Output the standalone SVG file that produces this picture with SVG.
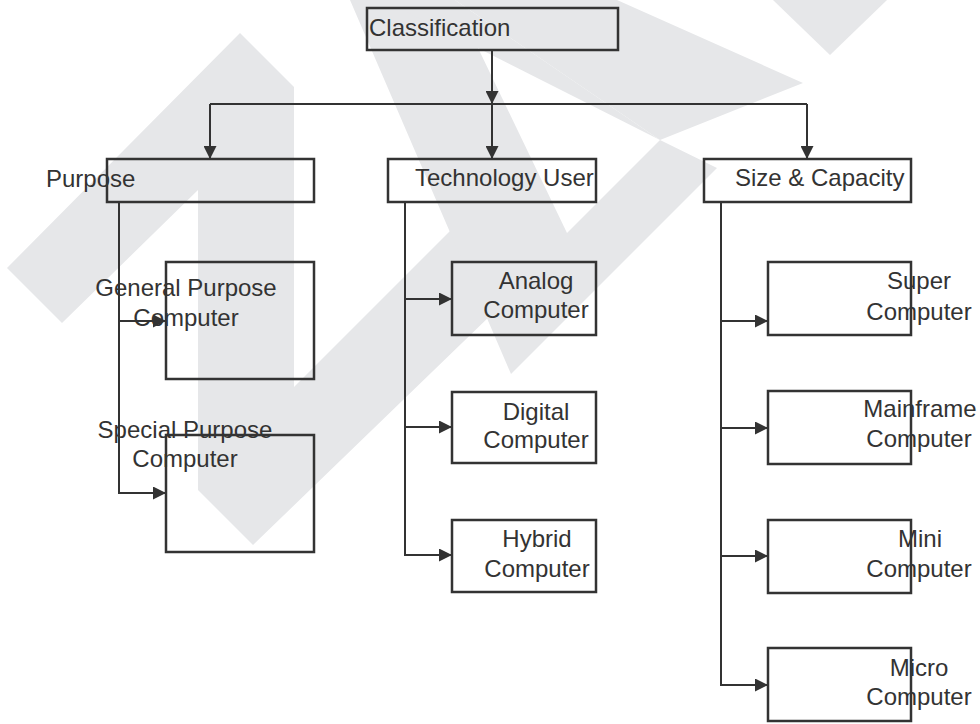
<svg xmlns="http://www.w3.org/2000/svg" width="980" height="724" viewBox="0 0 980 724">
<style>
.wm{fill:#e6e7e9;stroke:none}
.box{fill:none;stroke:#333;stroke-width:2.5}
.ln{fill:none;stroke:#333;stroke-width:2}
.t{font-family:"Liberation Sans",Arial,sans-serif;font-size:24px;fill:#333}
.c{text-anchor:middle}
</style>
<defs>
<marker id="ah" markerWidth="13" markerHeight="13" refX="13" refY="6.5" orient="auto" markerUnits="userSpaceOnUse">
<path d="M0,0 L13,6.5 L0,13 z" fill="#333"/>
</marker>
</defs>
<rect x="0" y="0" width="980" height="724" fill="#fff"/>
<g id="watermark">
<polygon class="wm" points="7,268 240,33 294,87 294,387 460,221 492,314 253,545 198,490 198,190 62,323"/>
<polygon class="wm" points="350,0 617,0 803,83 660,140 717,168 511,374"/>
<polygon class="wm" points="773,0 830,55 887,0"/>
<polygon class="wm" fill="#fff" style="fill:#fff" points="455,0 660,140 567,233"/>
<polygon class="wm" points="383,0 455,0 660,140"/>
</g>
<g id="connectors">
<path class="ln" d="M492,50 V104" marker-end="url(#ah)"/>
<path class="ln" d="M210,104 H807"/>
<path class="ln" d="M210,104 V159" marker-end="url(#ah)"/>
<path class="ln" d="M492,104 V159" marker-end="url(#ah)"/>
<path class="ln" d="M807,104 V159" marker-end="url(#ah)"/>
<path class="ln" d="M119,202 V493 H166" marker-end="url(#ah)"/>
<path class="ln" d="M119,321 H166" marker-end="url(#ah)"/>
<path class="ln" d="M405,202 V555 H452" marker-end="url(#ah)"/>
<path class="ln" d="M405,299 H452" marker-end="url(#ah)"/>
<path class="ln" d="M405,427 H452" marker-end="url(#ah)"/>
<path class="ln" d="M721,202 V685 H768" marker-end="url(#ah)"/>
<path class="ln" d="M721,321 H768" marker-end="url(#ah)"/>
<path class="ln" d="M721,428 H768" marker-end="url(#ah)"/>
<path class="ln" d="M721,556 H768" marker-end="url(#ah)"/>
</g>
<g id="classification"><rect class="box" x="367" y="8" width="251" height="42"/><text class="t" x="369" y="36">Classification</text></g>
<g id="purpose"><rect class="box" x="107" y="159" width="207" height="43"/><text class="t" x="46" y="187">Purpose</text></g>
<g id="technology"><rect class="box" x="388" y="159" width="208" height="43"/><text class="t" x="415" y="186">Technology User</text></g>
<g id="size"><rect class="box" x="704" y="159" width="207" height="43"/><text class="t" x="735" y="186">Size &amp; Capacity</text></g>
<g id="general"><rect class="box" x="166" y="262" width="148" height="117"/><text class="t c" x="186" y="296">General Purpose</text><text class="t c" x="186" y="326">Computer</text></g>
<g id="special"><rect class="box" x="166" y="435" width="148" height="117"/><text class="t c" x="185" y="438">Special Purpose</text><text class="t c" x="185" y="467">Computer</text></g>
<g id="analog"><rect class="box" x="452" y="262" width="144" height="73"/><text class="t c" x="536" y="289">Analog</text><text class="t c" x="536" y="318">Computer</text></g>
<g id="digital"><rect class="box" x="452" y="392" width="144" height="71"/><text class="t c" x="536" y="420">Digital</text><text class="t c" x="536" y="448">Computer</text></g>
<g id="hybrid"><rect class="box" x="452" y="520" width="144" height="72"/><text class="t c" x="537" y="547">Hybrid</text><text class="t c" x="537" y="577">Computer</text></g>
<g id="super"><rect class="box" x="768" y="262" width="143" height="73"/><text class="t c" x="919" y="289">Super</text><text class="t c" x="919" y="320">Computer</text></g>
<g id="mainframe"><rect class="box" x="768" y="391" width="143" height="73"/><text class="t c" x="920" y="417">Mainframe</text><text class="t c" x="919" y="447">Computer</text></g>
<g id="mini"><rect class="box" x="768" y="520" width="143" height="73"/><text class="t c" x="920" y="547">Mini</text><text class="t c" x="919" y="577">Computer</text></g>
<g id="micro"><rect class="box" x="768" y="648" width="143" height="73"/><text class="t c" x="919" y="676">Micro</text><text class="t c" x="919" y="705">Computer</text></g>
</svg>
